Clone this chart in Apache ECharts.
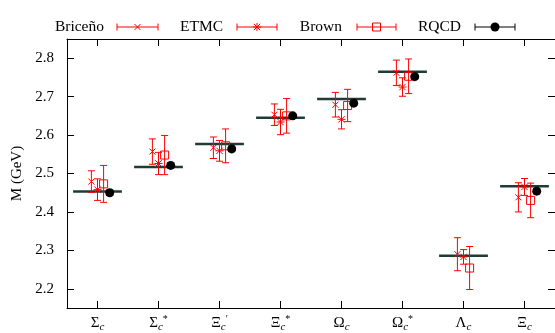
<!DOCTYPE html>
<html>
<head>
<meta charset="utf-8">
<script src="https://cdn.jsdelivr.net/npm/echarts@6/dist/echarts.min.js"></script>
<style>
  html, body { margin: 0; padding: 0; background: #ffffff; }
  #chart { width: 555px; height: 333px; }
</style>
</head>
<body>
<div id="chart"></div>
<script>
// Charmed baryon masses (GeV): lattice results compared with experiment
const baryonSymbols = ['Σ', 'Σ', 'Ξ', 'Ξ', 'Ω', 'Ω', 'Λ', 'Ξ'];
const baryonSups    = ['',  '*', '′', '*', '',  '*', '',  ''];

const expMass     = [2.453, 2.517, 2.577, 2.645, 2.694, 2.765, 2.286, 2.467];

const bricenoMass = [2.479, 2.557, 2.567, 2.653, 2.679, 2.762, 2.290, 2.438];
const bricenoErr  = [0.028, 0.033, 0.028, 0.028, 0.032, 0.033, 0.043, 0.038];

const etmcMass    = [2.458, 2.526, 2.559, 2.634, 2.641, 2.725, 2.283, 2.465];
const etmcErr     = [0.028, 0.029, 0.027, 0.033, 0.025, 0.024, 0.019, 0.022];

const brownMass   = [2.473, 2.548, 2.572, 2.650, 2.677, 2.753, 2.254, 2.430];
const brownErr    = [0.048, 0.051, 0.044, 0.045, 0.042, 0.045, 0.056, 0.045];

const rqcdMass    = [2.450, 2.521, 2.564, 2.650, 2.683, 2.752, null, 2.454];
const rqcdErr     = [0.007, 0.007, 0.007, 0.006, 0.006, 0.006, null, 0.007];

const yTicks = [2.2, 2.3, 2.4, 2.5, 2.6, 2.7, 2.8];
const xTicks = [1, 2, 3, 4, 5, 6, 7, 8];

const FONT = "'Liberation Serif', 'Times New Roman', serif";
const RED = '#ff0000';
const BLACK = '#000000';
const EXP_COLOR = '#1f3b36';

// point symbols drawn as plain shapes, shared by the series and the legend
function markerShapes(kind, cx, cy, color) {
  const s = { stroke: color, lineWidth: 1, fill: 'none' };
  const line = (x1, y1, x2, y2) => ({ type: 'line', shape: { x1, y1, x2, y2 }, style: Object.assign({}, s) });
  if (kind === 'cross') {
    const r = 3;
    return [line(cx - r, cy - r, cx + r, cy + r), line(cx - r, cy + r, cx + r, cy - r)];
  }
  if (kind === 'star') {
    const r = 3.2;
    return [
      line(cx - r, cy - r, cx + r, cy + r), line(cx - r, cy + r, cx + r, cy - r),
      line(cx, cy - r - 0.8, cx, cy + r + 0.8), line(cx - r - 0.8, cy, cx + r + 0.8, cy)
    ];
  }
  if (kind === 'square') {
    const h = 4;
    return [{ type: 'rect', shape: { x: cx - h, y: cy - h, width: 2 * h, height: 2 * h }, style: Object.assign({}, s) }];
  }
  // filled circle
  return [{ type: 'circle', shape: { cx, cy, r: 4.5 }, style: { fill: color, stroke: color, lineWidth: 0 } }];
}

function buildData(mass, err, offset) {
  const out = [];
  mass.forEach((m, i) => {
    if (m !== null && m !== undefined) out.push([i + 1 + offset, m, err[i]]);
  });
  return out;
}

function errorBarRenderer(kind, color) {
  return function (params, api) {
    const x = api.value(0), y = api.value(1), e = api.value(2);
    const c = api.coord([x, y]);
    const top = api.coord([x, y + e]);
    const bot = api.coord([x, y - e]);
    const cap = 3.5;
    const st = { stroke: color, lineWidth: 1 };
    const children = [
      { type: 'line', shape: { x1: c[0], y1: top[1], x2: c[0], y2: bot[1] }, style: st },
      { type: 'line', shape: { x1: c[0] - cap, y1: top[1], x2: c[0] + cap, y2: top[1] }, style: st },
      { type: 'line', shape: { x1: c[0] - cap, y1: bot[1], x2: c[0] + cap, y2: bot[1] }, style: st }
    ].concat(markerShapes(kind, c[0], c[1], color));
    return { type: 'group', children };
  };
}

function expRenderer(params, api) {
  const x = api.value(0), y = api.value(1);
  const a = api.coord([x - 0.4, y]);
  const b = api.coord([x + 0.4, y]);
  return {
    type: 'line',
    shape: { x1: a[0], y1: a[1], x2: b[0], y2: b[1] },
    style: { stroke: EXP_COLOR, lineWidth: 2.5 }
  };
}

const groups = [
  { name: 'Briceño', mass: bricenoMass, err: bricenoErr, offset: -0.1, kind: 'cross',  color: RED },
  { name: 'ETMC',    mass: etmcMass,    err: etmcErr,    offset: 0.0,  kind: 'star',   color: RED },
  { name: 'Brown',   mass: brownMass,   err: brownErr,   offset: 0.1,  kind: 'square', color: RED },
  { name: 'RQCD',    mass: rqcdMass,    err: rqcdErr,    offset: 0.2,  kind: 'circle', color: BLACK }
];

// legend: label text followed by an error-bar sample
const legendLayout = [
  { textRight: 104, x1: 117, x2: 158 },
  { textRight: 223, x1: 237, x2: 277 },
  { textRight: 342, x1: 357, x2: 396 },
  { textRight: 461, x1: 475, x2: 515 }
];
const legendY = 27;
const legendGraphics = [];
groups.forEach((g, i) => {
  const L = legendLayout[i];
  const st = { stroke: g.color, lineWidth: 1 };
  const cx = (L.x1 + L.x2) / 2;
  legendGraphics.push({
    type: 'group',
    children: [
      { type: 'text', style: { text: g.name, x: L.textRight, y: legendY, textAlign: 'right', textVerticalAlign: 'middle', font: '15.5px ' + FONT, fill: '#000' } },
      { type: 'line', shape: { x1: L.x1, y1: legendY, x2: L.x2, y2: legendY }, style: st },
      { type: 'line', shape: { x1: L.x1, y1: legendY - 3.5, x2: L.x1, y2: legendY + 3.5 }, style: st },
      { type: 'line', shape: { x1: L.x2, y1: legendY - 3.5, x2: L.x2, y2: legendY + 3.5 }, style: st }
    ].concat(markerShapes(g.kind, cx, legendY, g.color))
  });
});

const axisLineStyle = { lineStyle: { color: '#000', width: 1 } };
const tickStyle = { inside: true, length: 7, lineStyle: { color: '#000', width: 1 } };

const chart = echarts.init(document.getElementById('chart'), null, { renderer: 'canvas' });

chart.setOption({
  animation: false,
  backgroundColor: '#ffffff',
  grid: { left: 67, right: -2, top: 39, bottom: 24 },
  graphic: legendGraphics,
  xAxis: [
    {
      type: 'value', min: 0.5, max: 8.5, position: 'bottom',
      axisLine: axisLineStyle,
      axisTick: Object.assign({ customValues: xTicks }, tickStyle),
      splitLine: { show: false },
      axisLabel: {
        customValues: xTicks,
        margin: 6,
        formatter: v => {
          const i = Math.round(v) - 1;
          const sup = baryonSups[i];
          return '{b|' + baryonSymbols[i] + '}{s|c}' + (sup ? '{p|' + sup + '}' : '');
        },
        rich: {
          b: { fontFamily: FONT, fontSize: 15, color: '#000' },
          s: { fontFamily: FONT, fontSize: 11, fontStyle: 'italic', color: '#000', padding: [8, 0, 0, 0] },
          p: { fontFamily: FONT, fontSize: 10, color: '#000', padding: [0, 0, 9, 0] }
        }
      }
    },
    {
      type: 'value', min: 0.5, max: 8.5, position: 'top',
      axisLine: axisLineStyle,
      axisTick: Object.assign({ customValues: xTicks }, tickStyle),
      axisLabel: { show: false },
      splitLine: { show: false }
    }
  ],
  yAxis: [
    {
      type: 'value', min: 2.15, max: 2.85, position: 'left',
      name: 'M (GeV)', nameLocation: 'middle', nameGap: 34,
      nameTextStyle: { fontFamily: FONT, fontSize: 15, color: '#000' },
      axisLine: Object.assign({ show: true }, axisLineStyle),
      axisTick: Object.assign({ show: true, customValues: yTicks }, tickStyle),
      splitLine: { show: false },
      axisLabel: {
        customValues: yTicks,
        margin: 13,
        fontFamily: FONT, fontSize: 15, color: '#000',
        formatter: v => v.toFixed(1)
      }
    },
    {
      type: 'value', min: 2.15, max: 2.85, position: 'right',
      axisLine: Object.assign({ show: true }, axisLineStyle),
      axisTick: Object.assign({ show: true, customValues: yTicks }, tickStyle),
      axisLabel: { show: false },
      splitLine: { show: false }
    }
  ],
  series: [
    {
      name: 'Experiment', type: 'custom', xAxisIndex: 0, yAxisIndex: 0,
      renderItem: expRenderer, clip: false,
      data: expMass.map((m, i) => [i + 1, m]),
      encode: { x: 0, y: 1 }
    }
  ].concat(groups.map(g => ({
    name: g.name, type: 'custom', xAxisIndex: 0, yAxisIndex: 0,
    renderItem: errorBarRenderer(g.kind, g.color), clip: false,
    data: buildData(g.mass, g.err, g.offset),
    encode: { x: 0, y: 1 }
  })))
});
</script>
</body>
</html>
